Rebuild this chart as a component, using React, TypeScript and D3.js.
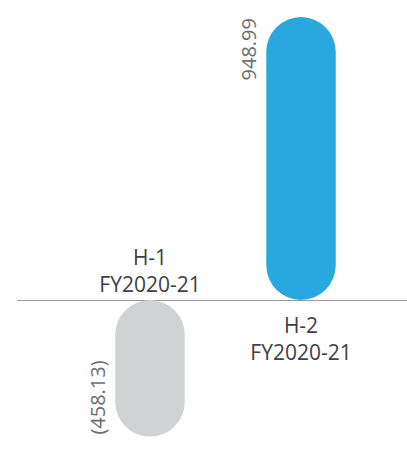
import React, { useEffect, useRef } from 'react'
import * as d3 from 'd3'

const categories = ['H-1', 'H-2']
const periods = ['FY2020-21', 'FY2020-21']
const values = [-458.13, 948.99]
const valueLabels = ['(458.13)', '948.99']
const colors = ['#d1d2d4', '#29a8e0']

const App = () => {
  const svgRef = useRef(null)

  useEffect(() => {
    document.body.style.margin = '0'
    const svg = d3.select(svgRef.current)
    svg.selectAll('*').remove()

    const x = d3.scaleBand()
      .domain(categories)
      .range([74.5, 376.5])
      .paddingInner(0.54)
      .paddingOuter(0.27)

    const y = d3.scaleLinear()
      .domain([0, 948.99])
      .range([300, 17])

    const bw = x.bandwidth()
    const font = '"Open Sans", sans-serif'

    // baseline
    svg.append('line')
      .attr('x1', 17).attr('x2', 407)
      .attr('y1', y(0) + 0.5).attr('y2', y(0) + 0.5)
      .attr('stroke', '#9a9a9a')
      .attr('stroke-width', 1)

    const data = categories.map((c, i) => ({ c, v: values[i], label: valueLabels[i], period: periods[i], color: colors[i] }))

    // pill bars
    svg.selectAll('.bar')
      .data(data)
      .enter().append('rect')
      .attr('class', 'bar')
      .attr('x', d => x(d.c))
      .attr('y', d => Math.min(y(d.v), y(0)))
      .attr('width', bw)
      .attr('height', d => Math.abs(y(d.v) - y(0)))
      .attr('rx', bw / 2)
      .attr('ry', bw / 2)
      .attr('fill', d => d.color)

    // value labels, rotated
    svg.selectAll('.val')
      .data(data)
      .enter().append('text')
      .attr('class', 'val')
      .attr('transform', d => `translate(${x(d.c) - 10},${d.v >= 0 ? y(d.v) + 1 : y(d.v) - 2}) rotate(-90)`)
      .attr('text-anchor', d => d.v >= 0 ? 'end' : 'start')
      .attr('font-family', font)
      .attr('font-size', 20)
      .attr('fill', '#6d6e71')
      .text(d => d.label)

    // category labels
    const cat = svg.selectAll('.cat')
      .data(data)
      .enter().append('text')
      .attr('class', 'cat')
      .attr('text-anchor', 'middle')
      .attr('font-family', font)
      .attr('font-size', 21)
      .attr('fill', '#414042')

    cat.append('tspan')
      .attr('x', d => x(d.c) + bw / 2)
      .attr('y', d => d.v >= 0 ? y(0) + 33 : y(0) - 35)
      .text(d => d.c)

    cat.append('tspan')
      .attr('x', d => x(d.c) + bw / 2)
      .attr('dy', 27)
      .text(d => d.period)
  }, [])

  return <svg ref={svgRef} width={407} height={450} style={{ display: 'block' }}></svg>
}

export default App
